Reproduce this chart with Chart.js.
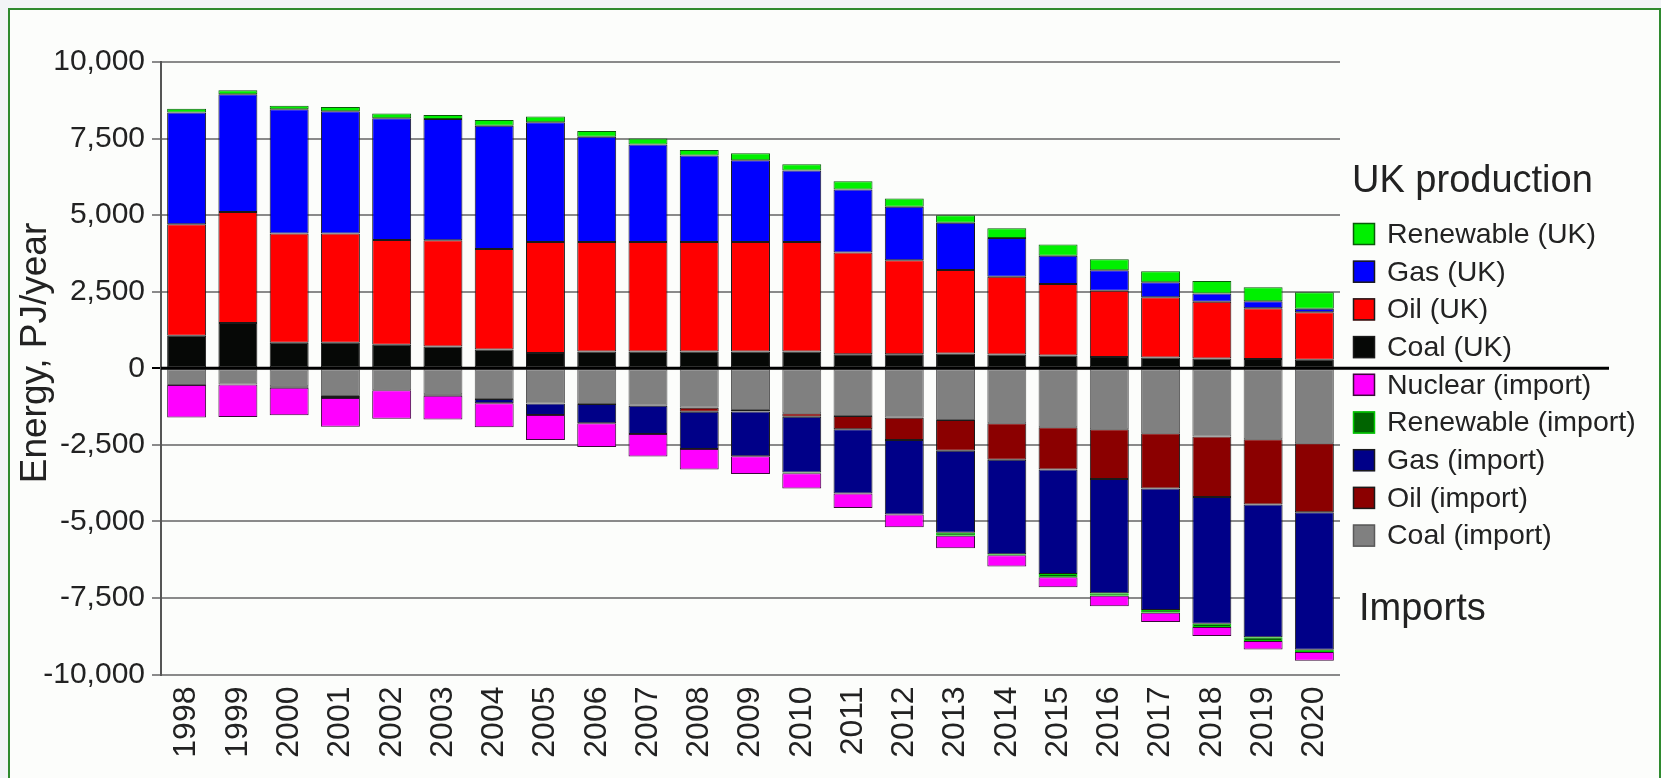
<!DOCTYPE html>
<html>
<head>
<meta charset="utf-8">
<script src="https://cdn.jsdelivr.net/npm/chart.js@4.4.1/dist/chart.umd.min.js"></script>
<style>
  html, body { margin: 0; padding: 0; background: #f2f4f7; overflow: hidden; }
  #frame { position: absolute; left: 8px; top: 8px; width: 1649px; height: 800px;
           border: 2px solid #2f8a2f; background: #fcfdfb; }
  #myChart { position: absolute; left: 0; top: 0; }
</style>
</head>
<body>
<div id="frame"></div>
<canvas id="myChart" width="1661" height="778"></canvas>
<script>
const years = ['1998','1999','2000','2001','2002','2003','2004','2005','2006','2007','2008',
  '2009','2010','2011','2012','2013','2014','2015','2016','2017','2018','2019','2020'];

// UK production, PJ/year
const coalUK  = [1060,1480,830,830,770,710,610,500,550,550,550,550,550,460,460,480,450,420,370,350,320,300,280];
const oilUK   = [3640,3620,3570,3570,3420,3470,3280,3620,3570,3570,3570,3570,3570,3320,3070,2730,2540,2330,2160,1970,1850,1660,1550];
const gasUK   = [3650,3850,4060,3990,3970,3960,4030,3910,3440,3190,2825,2670,2340,2060,1740,1540,1260,920,670,490,270,230,110];
const renewUK = [120,130,110,140,160,130,190,190,190,195,185,230,200,270,270,250,320,370,360,360,410,455,540];

// imports, PJ/year (drawn below zero)
const coalImp    = [-550,-530,-585,-910,-715,-845,-1005,-1150,-1170,-1225,-1290,-1365,-1470,-1560,-1615,-1690,-1795,-1925,-1990,-2120,-2230,-2315,-2445];
const oilImp     = [0,0,0,0,0,0,0,0,0,0,-130,-50,-110,-430,-725,-1000,-1190,-1385,-1625,-1810,-1970,-2135,-2255];
const gasImp     = [0,0,-50,-60,0,-50,-140,-380,-625,-920,-1220,-1460,-1820,-2100,-2435,-2680,-3085,-3410,-3735,-3960,-4145,-4330,-4490];
const renewImp   = [0,0,0,0,0,0,0,0,0,0,0,0,-30,0,0,-100,-40,-105,-80,-95,-105,-130,-75];
const nuclearImp = [-1060,-1060,-900,-940,-930,-780,-780,-810,-780,-735,-670,-575,-500,-470,-420,-410,-365,-325,-345,-300,-290,-275,-285];

const yTicks = [-10000,-7500,-5000,-2500,0,2500,5000,7500,10000];

const FONT = '"Liberation Sans", Arial, sans-serif';

function ds(label, data, bg, border) {
    return { label: label, data: data, backgroundColor: bg, borderColor: border || '#1a1a1a',
             borderWidth: 1, borderSkipped: false, stack: 's' };
}

const datasets = [
    ds('Coal (UK)', coalUK, '#060806'),
    ds('Oil (UK)', oilUK, '#ff0000'),
    ds('Gas (UK)', gasUK, '#0000ff'),
    ds('Renewable (UK)', renewUK, '#00f000', '#0a5a0a'),
    ds('Coal (import)', coalImp, '#808080', '#5a5a5a'),
    ds('Oil (import)', oilImp, '#8b0000'),
    ds('Gas (import)', gasImp, '#000088'),
    ds('Renewable (import)', renewImp, '#006400', '#00cc00'),
    ds('Nuclear (import)', nuclearImp, '#ff00ff', '#3a0a3a')
];

// legend rows, top to bottom
const legendOrder = ['Renewable (UK)','Gas (UK)','Oil (UK)','Coal (UK)',
    'Nuclear (import)','Renewable (import)','Gas (import)','Oil (import)','Coal (import)'];

const sidePlugin = {
    id: 'side',
    afterDatasetsDraw(chart) {
        const c = chart.ctx;
        const y0 = chart.scales.y.getPixelForValue(0);
        c.save();
        c.strokeStyle = '#000';
        c.lineWidth = 3;
        c.beginPath();
        c.moveTo(chart.chartArea.left, y0);
        c.lineTo(1609, y0);
        c.stroke();
        c.restore();
    },
    afterDraw(chart) {
        const c = chart.ctx;
        c.save();
        c.fillStyle = '#222';
        c.textBaseline = 'alphabetic';
        c.font = '38px ' + FONT;
        c.fillText('UK production', 1352, 192);
        c.fillText('Imports', 1359, 620);
        c.font = '28.5px ' + FONT;
        c.textBaseline = 'middle';
        legendOrder.forEach((name, i) => {
            const d = chart.data.datasets.find(x => x.label === name);
            const cy = 234 + i * 37.7;
            c.fillStyle = d.backgroundColor;
            c.fillRect(1353, cy - 11, 22, 22);
            c.strokeStyle = d.borderColor;
            c.lineWidth = 1.5;
            c.strokeRect(1353.5, cy - 10.5, 21, 21);
            c.fillStyle = '#222';
            c.fillText(name, 1387, cy + 1);
        });
        // axis title, drawn here so it can sit a little above the plot centre
        c.translate(36, 353);
        c.rotate(-Math.PI / 2);
        c.textAlign = 'center';
        c.font = '37px ' + FONT;
        c.fillText('Energy, PJ/year', 0, 0);
        c.restore();
    }
};

const ctx = document.getElementById('myChart');
new Chart(ctx, {
    type: 'bar',
    data: { labels: years, datasets: datasets },
    options: {
        responsive: false,
        animation: false,
        devicePixelRatio: 1,
        layout: { padding: { left: 0, top: 62, right: 321, bottom: 0 } },
        datasets: { bar: { categoryPercentage: 1, barPercentage: 0.76 } },
        plugins: { legend: { display: false }, tooltip: { enabled: false } },
        scales: {
            x: {
                stacked: true,
                grid: { display: false, drawTicks: false },
                border: { display: false },
                ticks: { minRotation: 90, maxRotation: 90, padding: 12, color: '#222',
                         font: { family: FONT, size: 32 } },
                afterFit: (s) => { s.height = 103.5; }
            },
            y: {
                stacked: true,
                min: -10000, max: 10000,
                afterBuildTicks: (s) => { s.ticks = yTicks.map(v => ({ value: v })); },
                ticks: { padding: 7, color: '#222', font: { family: FONT, size: 30 },
                         callback: (v) => v.toLocaleString('en-US') },
                grid: { color: (c) => c.tick && c.tick.value === 0 ? '#000' : '#8a8a8a',
                        lineWidth: 2, tickLength: 9, drawTicks: true },
                border: { display: true, color: '#555', width: 2 },
                afterFit: (s) => { s.width = 161; }
            }
        }
    },
    plugins: [sidePlugin]
});
</script>
</body>
</html>
